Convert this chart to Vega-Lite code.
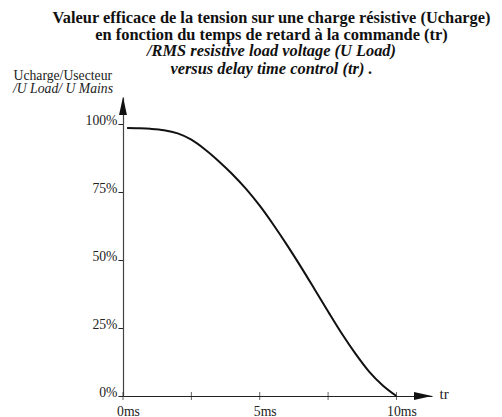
{
  "$schema": "https://vega.github.io/schema/vega-lite/v6.json",
  "autosize": {"type": "none"},
  "width": 309,
  "height": 299,
  "padding": {"left": 123, "top": 97, "right": 70, "bottom": 21},
  "background": "white",
  "config": {"view": {"stroke": null}, "font": "'Liberation Serif', 'Times New Roman', Times, serif"},
  "title": {
    "text": ["Valeur efficace de la tension sur une charge résistive (Ucharge)", "en fonction du temps de retard à la commande (tr)"],
    "subtitle": ["/RMS resistive load voltage (U Load)", "versus delay time control (tr) ."],
    "anchor": "middle",
    "frame": "group",
    "dx": -6,
    "offset": -9,
    "font": "'Liberation Serif', 'Times New Roman', Times, serif",
    "fontSize": 16.4,
    "fontWeight": "bold",
    "lineHeight": 17,
    "color": "#111",
    "subtitleFont": "'Liberation Serif', 'Times New Roman', Times, serif",
    "subtitleFontSize": 16.4,
    "subtitleFontWeight": "bold",
    "subtitleFontStyle": "italic",
    "subtitleLineHeight": 17.5,
    "subtitleColor": "#111",
    "subtitlePadding": 0
  },
  "layer": [
    {
      "data": {"values": [
        {"t": 0.15, "v": 98.6}, {"t": 0.5, "v": 98.5}, {"t": 1.0, "v": 98.3},
        {"t": 1.5, "v": 97.8}, {"t": 2.0, "v": 96.6}, {"t": 2.5, "v": 94.3},
        {"t": 3.0, "v": 90.7}, {"t": 3.5, "v": 86.4}, {"t": 4.0, "v": 81.6},
        {"t": 4.5, "v": 76.2}, {"t": 5.0, "v": 70.0}, {"t": 5.5, "v": 63.0},
        {"t": 6.0, "v": 55.5}, {"t": 6.5, "v": 47.6}, {"t": 7.0, "v": 39.4},
        {"t": 7.5, "v": 31.1}, {"t": 8.0, "v": 23.0}, {"t": 8.5, "v": 15.6},
        {"t": 9.0, "v": 9.0}, {"t": 9.5, "v": 3.9}, {"t": 10.0, "v": 0}
      ]},
      "mark": {"type": "line", "interpolate": "monotone", "color": "#111", "strokeWidth": 2},
      "encoding": {
        "x": {
          "field": "t", "type": "quantitative",
          "scale": {"domain": [0, 11.3], "nice": false, "zero": false},
          "axis": {
            "values": [0, 5, 10],
            "labelExpr": "datum.value + 'ms'",
            "grid": false,
            "ticks": false,
            "labelFlush": false,
            "labelOffset": 5,
            "labelPadding": 8,
            "labelBaseline": "top",
            "labelFontSize": 13.7,
            "labelColor": "#222",
            "domainColor": "#222",
            "domainWidth": 1.2,
            "title": "tr",
            "titleX": 316,
            "titleY": -3,
            "titleAlign": "left",
            "titleBaseline": "middle",
            "titleFontSize": 15,
            "titleFontWeight": "normal",
            "titleColor": "#222"
          }
        },
        "y": {
          "field": "v", "type": "quantitative",
          "scale": {"domain": [0, 110], "nice": false, "zero": false},
          "axis": {
            "values": [0, 25, 50, 75, 100],
            "labelExpr": "datum.value + '%'",
            "grid": false,
            "tickSize": 5,
            "tickColor": "#222",
            "labelFlush": false,
            "labelPadding": 1,
            "labelBaseline": "alphabetic",
            "labelFontSize": 13.7,
            "labelColor": "#222",
            "domainColor": "#444",
            "domainWidth": 1.2,
            "title": "Ucharge/Usecteur",
            "titleAngle": 0,
            "titleAlign": "left",
            "titleBaseline": "alphabetic",
            "titleX": -110,
            "titleY": -18,
            "titleFontSize": 13.7,
            "titleFontWeight": "normal",
            "titleColor": "#222"
          }
        }
      }
    },
    {
      "data": {"values": [{"t": 0}, {"t": 2.5}, {"t": 5}, {"t": 7.5}, {"t": 10}]},
      "mark": {"type": "tick", "orient": "vertical", "size": 8, "thickness": 1, "color": "#222"},
      "encoding": {
        "x": {"field": "t", "type": "quantitative"},
        "y": {"datum": 0, "type": "quantitative"}
      }
    },
    {
      "data": {"values": [{"dir": "right", "t": 11.3, "v": 0}, {"dir": "up", "t": 0, "v": 110}]},
      "mark": {"type": "point", "filled": true, "opacity": 1, "color": "#111", "size": 1296, "strokeWidth": 0},
      "encoding": {
        "x": {"field": "t", "type": "quantitative"},
        "y": {"field": "v", "type": "quantitative"},
        "shape": {
          "field": "dir", "type": "nominal",
          "scale": {"domain": ["right", "up"], "range": ["M 0 0 L -1 -0.22 L -1 0.22 Z", "M 0 0 L -0.22 1 L 0.22 1 Z"]},
          "legend": null
        }
      }
    },
    {
      "data": {"values": [{"label": "/U Load/ U Mains"}]},
      "mark": {"type": "text", "align": "left", "baseline": "alphabetic", "dx": -110, "dy": -4, "fontSize": 13.7, "fontStyle": "italic", "color": "#222"},
      "encoding": {
        "x": {"datum": 0, "type": "quantitative"},
        "y": {"datum": 110, "type": "quantitative"},
        "text": {"field": "label"}
      }
    }
  ]
}
